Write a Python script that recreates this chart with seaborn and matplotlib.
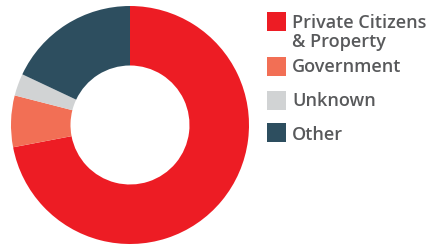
import matplotlib
matplotlib.use("Agg")
import matplotlib.pyplot as plt
import seaborn as sns
from matplotlib.patches import Rectangle

labels = ["Private Citizens\n& Property", "Government", "Unknown", "Other"]
shares = [72, 7, 3, 18]
colors = ["#ED1C24", "#F26F55", "#D1D3D4", "#2D4E5F"]

sns.set_theme(style="white")
plt.rcParams['font.family'] = ['Open Sans', 'DejaVu Sans']

W, H = 443, 245
fig = plt.figure(figsize=(W / 100, H / 100), dpi=100)

# donut: centre ~(130,125), outer radius ~119 px
ax = fig.add_axes([11 / W, (H - 244) / H, 238 / W, 238 / H])
ax.pie(shares, colors=colors, startangle=90, counterclock=False,
       wedgeprops=dict(width=0.5, linewidth=0))
ax.set_xlim(-1, 1)
ax.set_ylim(-1, 1)
ax.set_aspect('equal')
ax.axis('off')

# legend drawn by hand (pixel positions from the top)
box_y = [12, 57, 91, 123]
base_y = [27.7, 72.5, 106.5, 139.5]
for lab, col, y, b in zip(labels, colors, box_y, base_y):
    fig.add_artist(Rectangle((267 / W, (H - y - 19) / H), 19 / W, 19 / H,
                             transform=fig.transFigure, color=col, lw=0))
    for i, line in enumerate(lab.split("\n")):
        fig.text(292 / W, (H - b - 19 * i) / H, line, ha='left', va='baseline',
                 fontsize=13, fontweight='semibold', color='#58595B')

fig.savefig("out.png", dpi=100)
